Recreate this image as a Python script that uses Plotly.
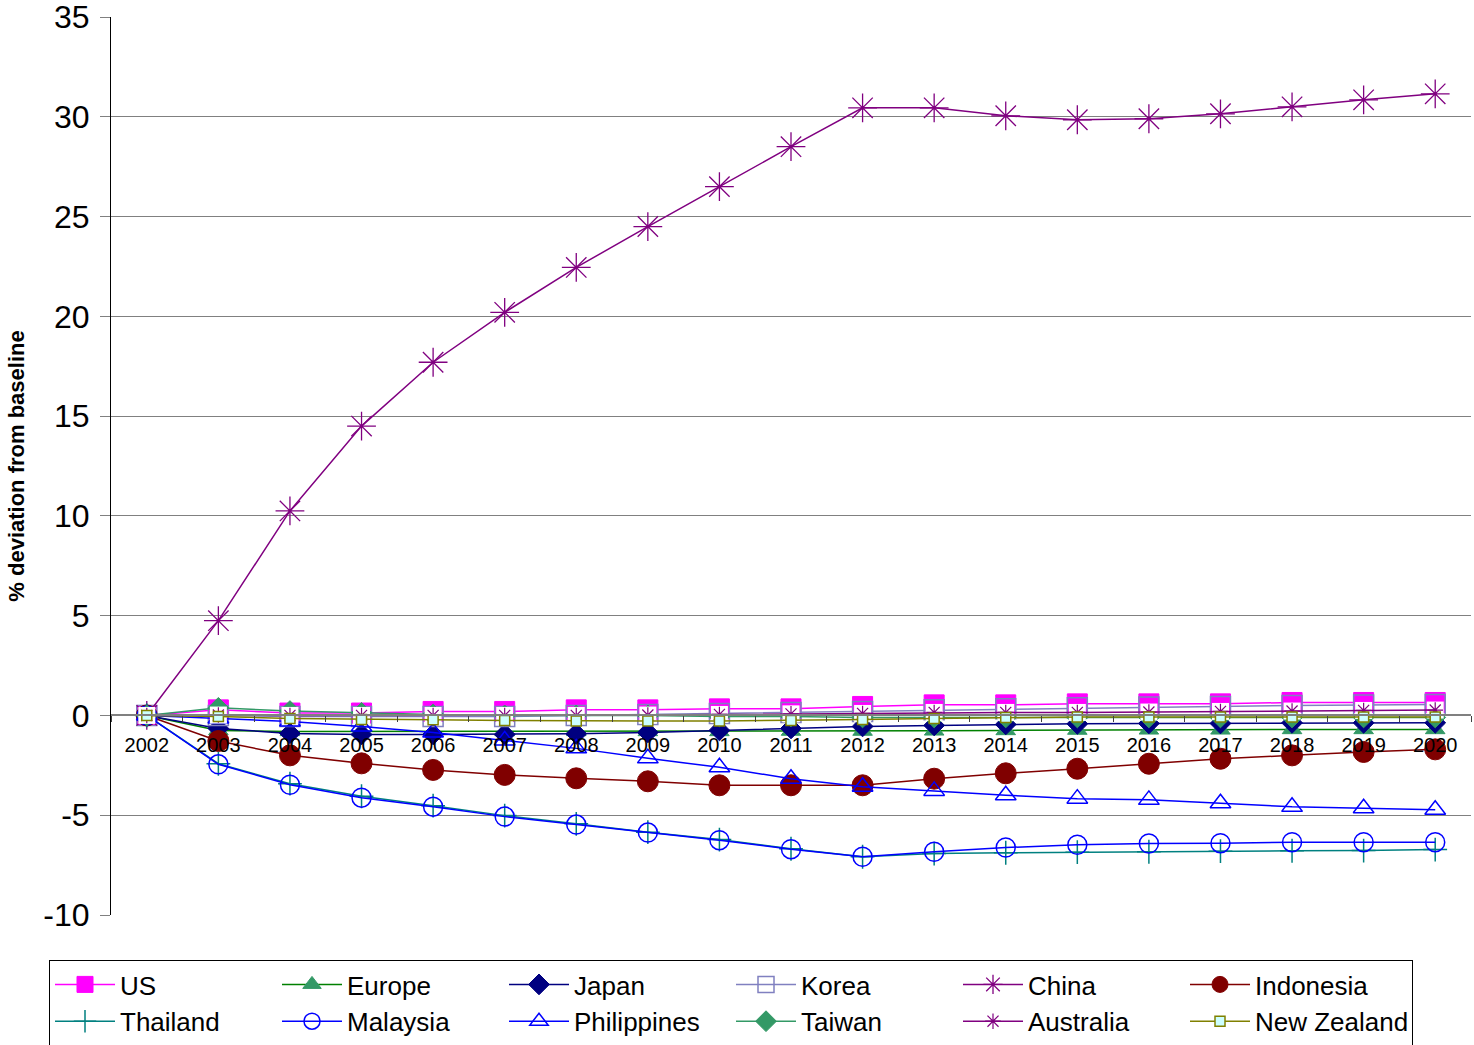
import plotly.graph_objects as go

years = [str(y) for y in range(2002, 2021)]

us          = [0, 0.28, 0.12, 0.12, 0.20, 0.20, 0.28, 0.28, 0.33, 0.33, 0.45, 0.53, 0.53, 0.58, 0.58, 0.58, 0.65, 0.65, 0.65]
europe      = [0, -0.75, -0.80, -0.80, -0.80, -0.80, -0.80, -0.80, -0.80, -0.78, -0.78, -0.77, -0.75, -0.73, -0.72, -0.72, -0.70, -0.70, -0.70]
japan       = [0, -0.65, -0.90, -0.95, -0.95, -0.95, -0.92, -0.85, -0.75, -0.65, -0.55, -0.50, -0.45, -0.42, -0.40, -0.40, -0.37, -0.37, -0.37]
korea       = [0, 0.0, -0.05, -0.05, -0.05, -0.05, 0.0, 0.05, 0.10, 0.15, 0.20, 0.28, 0.33, 0.38, 0.42, 0.45, 0.50, 0.52, 0.55]
china       = [0, 4.75, 10.25, 14.5, 17.7, 20.2, 22.45, 24.5, 26.5, 28.5, 30.45, 30.45, 30.05, 29.85, 29.9, 30.15, 30.5, 30.85, 31.15]
indonesia   = [0, -1.28, -2.0, -2.4, -2.73, -2.98, -3.15, -3.3, -3.5, -3.5, -3.5, -3.17, -2.9, -2.67, -2.42, -2.17, -2.0, -1.83, -1.7]
thailand    = [0, -2.42, -3.42, -4.05, -4.52, -5.02, -5.43, -5.85, -6.22, -6.68, -7.08, -6.92, -6.88, -6.85, -6.83, -6.80, -6.78, -6.77, -6.72]
malaysia    = [0, -2.45, -3.47, -4.12, -4.57, -5.07, -5.47, -5.87, -6.25, -6.70, -7.08, -6.83, -6.62, -6.48, -6.42, -6.40, -6.35, -6.35, -6.35]
philippines = [0, -0.15, -0.30, -0.55, -0.85, -1.25, -1.65, -2.15, -2.60, -3.17, -3.57, -3.78, -4.0, -4.17, -4.23, -4.40, -4.58, -4.65, -4.73]
taiwan      = [0, 0.38, 0.22, 0.13, 0.05, 0.0, 0.0, 0.0, -0.05, -0.05, -0.10, -0.10, -0.10, -0.10, -0.10, -0.10, -0.10, -0.10, -0.10]
australia   = [0, 0.02, 0.0, 0.0, 0.0, 0.0, 0.0, 0.02, 0.05, 0.08, 0.10, 0.15, 0.15, 0.15, 0.17, 0.20, 0.22, 0.25, 0.27]
new_zealand = [0, -0.05, -0.15, -0.20, -0.22, -0.25, -0.28, -0.28, -0.28, -0.25, -0.20, -0.15, -0.10, -0.08, -0.08, -0.08, -0.08, -0.08, -0.08]

y_ticks = [-10, -5, 0, 5, 10, 15, 20, 25, 30, 35]
y_tick_text = ["-10", "-5", "0", "5", "10", "15", "20", "25", "30", "35"]
inner_grid = [-5, 5, 10, 15, 20, 25, 30]

FONT = "Liberation Sans, Arial, sans-serif"

series = [
    ("US", us, dict(color="#FF00FF"), dict(symbol="square", size=20, color="#FF00FF", line=dict(color="#FF00FF", width=1))),
    ("Europe", europe, dict(color="#008000"), dict(symbol="triangle-up", size=17, color="#339966", line=dict(color="#339966", width=1))),
    ("Japan", japan, dict(color="#000080"), dict(symbol="diamond", size=16, color="#000080", line=dict(color="#000080", width=1))),
    ("Korea", korea, dict(color="#8080C0"), dict(symbol="square-open", size=20, color="#8080C0", line=dict(color="#8080C0", width=1.5))),
    ("China", china, dict(color="#800080"), dict(symbol="asterisk-open", size=24, color="#800080", line=dict(color="#800080", width=1.3))),
    ("Indonesia", indonesia, dict(color="#800000"), dict(symbol="circle", size=21, color="#800000", line=dict(color="#800000", width=1))),
    ("Thailand", thailand, dict(color="#008080"), dict(symbol="cross-thin-open", size=17, color="#008080", line=dict(color="#008080", width=1.5))),
    ("Malaysia", malaysia, dict(color="#0000FF"), dict(symbol="circle-open", size=19, color="#0000FF", line=dict(color="#0000FF", width=1.5))),
    ("Philippines", philippines, dict(color="#0000FF"), dict(symbol="triangle-up-open", size=18, color="#0000FF", line=dict(color="#0000FF", width=1.5))),
    ("Taiwan", taiwan, dict(color="#339966"), dict(symbol="diamond", size=16, color="#339966", line=dict(color="#339966", width=1))),
    ("Australia", australia, dict(color="#800080"), dict(symbol="asterisk-open", size=13, color="#800080", line=dict(color="#800080", width=1.2))),
    ("New Zealand", new_zealand, dict(color="#808000"), dict(symbol="square", size=10, color="#CCFFFF", line=dict(color="#808000", width=1.5))),
]

fig = go.Figure()
# empty trace that activates the overlay axis carrying the darker inner gridlines
fig.add_trace(go.Scatter(x=[], y=[], xaxis="x", yaxis="y2", showlegend=False, hoverinfo="skip"))
for name, vals, line, marker in series:
    if name == "Australia":
        # white background box of Excel's star marker
        fig.add_trace(go.Scatter(x=years, y=vals, mode="markers", showlegend=False, hoverinfo="skip",
                                 marker=dict(symbol="square", size=17, color="white", line=dict(width=0))))
    fig.add_trace(go.Scatter(x=years, y=vals, name=name, mode="lines+markers",
                             line=dict(width=1.5, **line), marker=marker))

fig.update_layout(
    width=1474, height=1045,
    margin=dict(l=111, r=3, t=17, b=130, autoexpand=False),
    paper_bgcolor="white", plot_bgcolor="white",
    font=dict(family=FONT, color="black"),
    showlegend=True,
    legend=dict(
        orientation="h", xref="container", yref="container",
        x=49 / 1474, y=1 - 960 / 1045, xanchor="left", yanchor="top",
        bordercolor="black", borderwidth=1, bgcolor="white",
        font=dict(family=FONT, size=26, color="black"),
        entrywidth=152, entrywidthmode="pixels", itemwidth=60,
        traceorder="normal",
    ),
    xaxis=dict(
        type="category", anchor="free", position=10 / 45,
        range=[-0.5, len(years) - 0.5], autorange=False, automargin=False,
        showline=True, linecolor="#808080", linewidth=2,
        ticks="outside", tickson="boundaries", ticklen=6, tickcolor="#404040",
        tickfont=dict(family=FONT, size=20, color="black"),
        ticklabelstandoff=12,
        showgrid=False, zeroline=False,
    ),
    yaxis=dict(
        range=[-10, 35], tickvals=y_ticks, ticktext=y_tick_text, automargin=False,
        showline=True, linecolor="black", linewidth=1,
        ticks="outside", ticklen=10, tickcolor="#808080",
        tickfont=dict(family=FONT, size=32, color="black"),
        ticklabelstandoff=4, ticklabeloverflow="allow",
        showgrid=True, gridcolor="#D9D9D9", gridwidth=1, zeroline=False,
        title=dict(text="<b>% deviation from baseline</b>", font=dict(family=FONT, size=22, color="black"), standoff=12),
    ),
    yaxis2=dict(
        overlaying="y", anchor="x", range=[-10, 35], autorange=False, tickvals=inner_grid, side="left", automargin=False,
        showticklabels=False, ticks="", showline=False, zeroline=False,
        showgrid=True, gridcolor="#808080", gridwidth=1,
    ),
)

fig.write_html("out.html")
